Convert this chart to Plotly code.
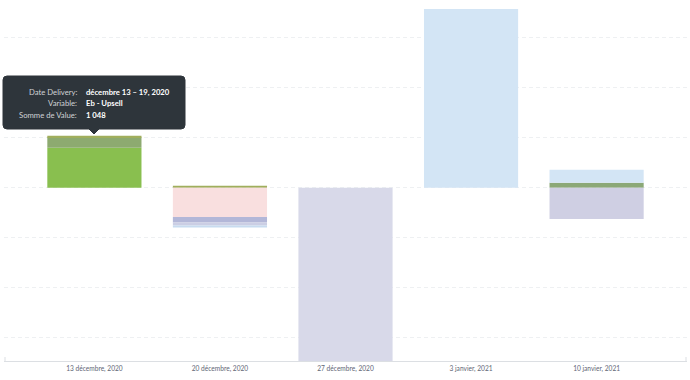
import plotly.graph_objects as go

# ---- data ----
weeks = ["13 décembre, 2020", "20 décembre, 2020", "27 décembre, 2020",
         "3 janvier, 2021", "10 janvier, 2021"]
eb_new = [4000, None, None, None, None]
eb_upsell = [1048, None, None, None, 500]
eb_other = [150, 200, None, None, None]
churn = [None, -2900, None, None, None]
downsell = [None, -570, None, None, None]
refund = [None, -300, -17300, None, -3100]
renewal = [None, -200, None, 17870, 1300]

tooltip_labels = ["Date Delivery:", "Variable:", "Somme de Value:"]
tooltip_values = ["décembre 13 – 19, 2020", "Eb - Upsell", "1 048"]

# ---- layout geometry (pixels) ----
W, H = 690, 380
ML, MR, MT, MB = 4, 3, 9, 19
PW, PH = W - ML - MR, H - MT - MB


def xp(px):
    return (px - ML) / PW


def yp(py):
    return (H - MB - py) / PH


series = [
    ("Eb - New", eb_new, "#89BF4F"),
    ("Eb - Upsell", eb_upsell, ["#8DAA70"] * 4 + ["#8BA877"]),
    ("Eb - Other", eb_other, "#A0AE5C"),
    ("Churn", churn, "#F9DFDF"),
    ("Downsell", downsell, "#B3B7D8"),
    ("Refund", refund, ["#CBCEE4", "#CBCEE4", "#D8D9E9", "#D8D9E9", "#CFCFE3"]),
    ("Renewal", renewal, ["#D3E5F5", "#C8DBEF", "#D3E5F5", "#D3E5F5", "#D3E5F5"]),
]

fig = go.Figure()
for name, vals, col in series:
    fig.add_trace(go.Bar(x=weeks, y=vals, name=name, marker_color=col,
                         marker_line_width=0, width=0.75))

fig.update_layout(
    width=W, height=H,
    margin=dict(l=ML, r=MR, t=MT, b=MB),
    barmode="relative",
    showlegend=False,
    plot_bgcolor="white", paper_bgcolor="white",
    font=dict(family="Lato", color="#7C8392"),
    hovermode=False,
)
fig.update_xaxes(
    range=[-0.72, 4.72], showgrid=False, showline=True, linecolor="#DCDFE3",
    linewidth=1, ticks="", tickfont=dict(size=6.6, color="#5E6574", family="Lato"),
    ticklabelstandoff=1,
)
fig.update_yaxes(
    range=[-17300, 17870], dtick=5000, showticklabels=False, zeroline=False,
    showgrid=True, gridcolor="#EEF0F2", griddash="4px,3px", gridwidth=1,
)

# outer ticks at the axis ends
for px in (ML + 1, W - MR - 1):
    fig.add_shape(type="line", xref="paper", yref="paper",
                  x0=xp(px), x1=xp(px), y0=0, y1=yp(H - MB - 4),
                  line=dict(color="#DCDFE3", width=1))

# tooltip box
x0, x1, y0, y1, r = 3, 185, 76, 129, 4
tip_x, tip_y, tw = 94, 134, 5
pts = (f"M {xp(x0 + r)},{yp(y0)} L {xp(x1 - r)},{yp(y0)} "
       f"Q {xp(x1)},{yp(y0)} {xp(x1)},{yp(y0 + r)} "
       f"L {xp(x1)},{yp(y1 - r)} Q {xp(x1)},{yp(y1)} {xp(x1 - r)},{yp(y1)} "
       f"L {xp(tip_x + tw)},{yp(y1)} L {xp(tip_x)},{yp(tip_y)} L {xp(tip_x - tw)},{yp(y1)} "
       f"L {xp(x0 + r)},{yp(y1)} Q {xp(x0)},{yp(y1)} {xp(x0)},{yp(y1 - r)} "
       f"L {xp(x0)},{yp(y0 + r)} Q {xp(x0)},{yp(y0)} {xp(x0 + r)},{yp(y0)} Z")
fig.add_shape(type="path", path=pts, xref="paper", yref="paper",
              fillcolor="#2E353B", line=dict(color="#2E353B", width=1))

rows_y = [92, 103.5, 115]
for lab, val, py in zip(tooltip_labels, tooltip_values, rows_y):
    fig.add_annotation(x=xp(79), y=yp(py), xref="paper", yref="paper",
                       text=lab, showarrow=False, xanchor="right", yanchor="middle",
                       font=dict(family="Lato", size=7.7, color="#D0D3D6"))
    fig.add_annotation(x=xp(84), y=yp(py), xref="paper", yref="paper",
                       text=f"<b>{val}</b>", showarrow=False, xanchor="left",
                       yanchor="middle",
                       font=dict(family="Lato", size=7.7, color="#FFFFFF"))

fig.write_html("out.html", config={"displayModeBar": False},
               post_script="document.body.style.margin='0';")
